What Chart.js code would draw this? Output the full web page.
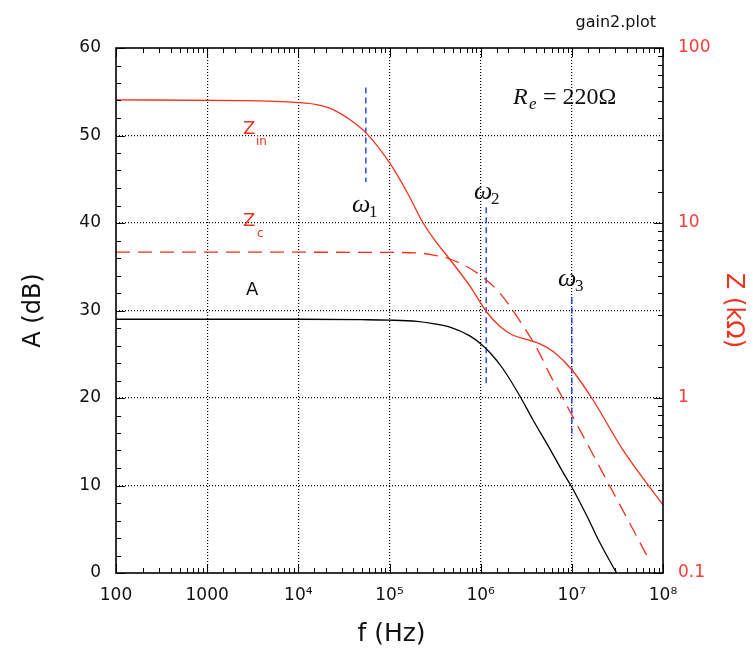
<!DOCTYPE html>
<html>
<head>
<meta charset="utf-8">
<script src="https://cdn.jsdelivr.net/npm/chart.js@4.4.0/dist/chart.umd.min.js"></script>
<style>
  html, body { margin:0; padding:0; background:#fff; }
  #wrap { width:753px; height:651px; }
</style>
</head>
<body>
<div id="wrap"><canvas id="gain" width="753" height="651"></canvas></div>
<script>
// gain2.plot: gain A (dB, left axis) and impedances Zin / Zc (kOhm, right log axis) vs frequency

// A curve (dB)
const freqA = [100, 1e3, 1e4, 5e4, 1e5, 2e5, 3e5, 4.6e5, 7.6e5, 1e6, 1.26e6, 1.74e6, 2.7e6, 3.7e6, 5.8e6, 8e6, 1e7, 1.45e7, 2e7, 2.8e7, 3.1e7];
const gainA = [29.0, 29.0, 29.0, 28.95, 28.9, 28.75, 28.5, 28.1, 27.1, 26.2, 25.2, 23.4, 20.2, 17.6, 14.1, 11.5, 9.8, 6.6, 3.6, 0.8, 0];

// Zin (kOhm)
const freqZin = [100, 2500, 1e4, 1.58e4, 2.4e4, 3.7e4, 5.6e4, 1e5, 1.58e5, 2.34e5, 3.16e5, 4.47e5, 7.6e5, 1.17e6, 1.62e6, 2.24e6, 3.16e6, 4.47e6, 6.3e6, 1e7, 1.7e7, 3.63e7, 1e8];
const zIn = [50.5, 50.1, 48.8, 47.5, 44.5, 38.9, 32.5, 22.1, 14.8, 10.0, 7.94, 6.31, 4.37, 3.09, 2.57, 2.29, 2.16, 2.04, 1.84, 1.45, 0.977, 0.505, 0.245];

// Zc (kOhm), dashed
const freqZc = [100, 1e5, 2.34e5, 3.16e5, 4.27e5, 7.1e5, 1.05e6, 1.62e6, 2.7e6, 4.17e6, 5.75e6, 7.94e6, 1.12e7, 1.58e7, 2.19e7, 3.09e7, 4.57e7, 6.6e7, 6.9e7];
const zC = [6.82, 6.79, 6.70, 6.53, 6.31, 5.62, 4.91, 3.98, 2.75, 1.91, 1.36, 1.0, 0.716, 0.513, 0.372, 0.266, 0.182, 0.127, 0.122];

// omega markers (blue dashed verticals, in dB of left axis)
const omegaFreq = [5.5e4, 1.15e6, 1.0e7];
const omegaTop = [55.5, 41.8, 31.5];
const omegaBottom = [44.7, 21.3, 15.4];

// tick labels
const xTickValues = [100, 1000, 1e4, 1e5, 1e6, 1e7, 1e8];
const xTickText = ['100', '1000', '10\u2074', '10\u2075', '10\u2076', '10\u2077', '10\u2078'];
const zTickValues = [0.1, 1, 10, 100];
const zTickText = ['0.1', '1', '10', '100'];

const RED = '#f2301c';
const SANS = '"DejaVu Sans", sans-serif';
const SERIF = '"Liberation Serif", serif';

const pairs = (xs, ys) => xs.map((x, i) => ({ x: x, y: ys[i] }));
const sameLog = (a, b) => Math.abs(Math.log10(a) - Math.log10(b)) < 1e-6;
const isDecade = v => Math.abs(Math.log10(v) - Math.round(Math.log10(v))) < 1e-6;

const omegaSets = omegaFreq.map((f, i) => ({
  data: [{ x: f, y: omegaTop[i] }, { x: f, y: omegaBottom[i] }],
  yAxisID: 'y', borderColor: '#1f3cff', borderWidth: 1.4, borderDash: [6, 4],
  pointRadius: 0, showLine: true
}));

// frame, inward ticks and text labels
const decor = {
  id: 'decor',
  beforeDraw(chart) {
    const ctx = chart.ctx;
    ctx.save();
    ctx.fillStyle = '#fff';
    ctx.fillRect(0, 0, chart.width, chart.height);
    ctx.restore();
  },
  afterDraw(chart) {
    const { ctx, chartArea: a, scales } = chart;
    ctx.save();
    ctx.strokeStyle = '#000';
    ctx.lineWidth = 1;
    ctx.beginPath();
    scales.x.ticks.forEach(t => {
      const px = Math.round(scales.x.getPixelForValue(t.value)) + 0.5;
      const len = isDecade(t.value) ? 9 : 5;
      ctx.moveTo(px, a.bottom); ctx.lineTo(px, a.bottom - len);
      ctx.moveTo(px, a.top); ctx.lineTo(px, a.top + len);
    });
    scales.y.ticks.forEach(t => {
      const py = Math.round(scales.y.getPixelForValue(t.value)) + 0.5;
      const len = t.value % 10 === 0 ? 9 : 5;
      ctx.moveTo(a.left, py); ctx.lineTo(a.left + len, py);
    });
    scales.y2.ticks.forEach(t => {
      const py = Math.round(scales.y2.getPixelForValue(t.value)) + 0.5;
      const len = isDecade(t.value) ? 9 : 5;
      ctx.moveTo(a.right, py); ctx.lineTo(a.right - len, py);
    });
    ctx.stroke();
    ctx.lineWidth = 1.6;
    ctx.strokeRect(a.left, a.top, a.right - a.left, a.bottom - a.top);

    // axis titles
    ctx.fillStyle = '#111';
    ctx.font = '25px ' + SANS;
    ctx.textAlign = 'center';
    ctx.textBaseline = 'alphabetic';
    ctx.fillText('f (Hz)', (a.left + a.right) / 2 + 2, 641);
    ctx.font = '24px ' + SANS;
    ctx.save();
    ctx.translate(40, (a.top + a.bottom) / 2);
    ctx.rotate(-Math.PI / 2);
    ctx.fillText('A (dB)', 0, 0);
    ctx.restore();
    ctx.save();
    ctx.fillStyle = RED;
    ctx.translate(727, (a.top + a.bottom) / 2);
    ctx.rotate(Math.PI / 2);
    ctx.fillText('Z (k\u03a9)', 0, 0);
    ctx.restore();

    ctx.font = '16px ' + SANS;
    ctx.textAlign = 'right';
    ctx.fillStyle = '#111';
    ctx.fillText('gain2.plot', 656, 27);

    // curve labels
    ctx.textAlign = 'left';
    const sub = (main, s, x, y, f1, f2, dx, dy, col) => {
      ctx.fillStyle = col;
      ctx.font = f1;
      ctx.fillText(main, x, y);
      ctx.font = f2;
      ctx.fillText(s, x + dx, y + dy);
    };
    sub('Z', 'in', 243, 134, '18px ' + SANS, '12px ' + SANS, 13, 11, RED);
    sub('Z', 'c', 243, 226, '18px ' + SANS, '12px ' + SANS, 14, 11, RED);
    ctx.fillStyle = '#111';
    ctx.font = '18px ' + SANS;
    ctx.fillText('A', 246, 295);

    sub('\u03c9', '1', 352, 212, 'italic 26px ' + SERIF, '17px ' + SERIF, 17, 5, '#111');
    sub('\u03c9', '2', 474, 199, 'italic 26px ' + SERIF, '17px ' + SERIF, 17, 5, '#111');
    sub('\u03c9', '3', 558, 286, 'italic 26px ' + SERIF, '17px ' + SERIF, 17, 5, '#111');

    sub('R', 'e', 513, 104, 'italic 24px ' + SERIF, 'italic 17px ' + SERIF, 16, 5, '#111');
    ctx.font = '24px ' + SERIF;
    ctx.fillText('= 220\u03a9', 543, 104);
    ctx.restore();
  }
};

new Chart(document.getElementById('gain'), {
  type: 'scatter',
  data: {
    datasets: [
      { data: pairs(freqZin, zIn), yAxisID: 'y2', borderColor: RED, borderWidth: 1.3, pointRadius: 0, showLine: true, cubicInterpolationMode: 'monotone' },
      { data: pairs(freqZc, zC), yAxisID: 'y2', borderColor: RED, borderWidth: 1.3, borderDash: [14, 8], pointRadius: 0, showLine: true, cubicInterpolationMode: 'monotone' },
      { data: pairs(freqA, gainA), yAxisID: 'y', borderColor: '#000', borderWidth: 1.3, pointRadius: 0, showLine: true, cubicInterpolationMode: 'monotone' }
    ].concat(omegaSets)
  },
  options: {
    responsive: false,
    animation: false,
    devicePixelRatio: 1,
    layout: { padding: { top: 48, left: 0, right: 0, bottom: 0 } },
    plugins: { legend: { display: false }, tooltip: { enabled: false } },
    scales: {
      x: {
        type: 'logarithmic', position: 'bottom', min: 100, max: 1e8,
        afterFit: s => { s.height = 78; },
        border: { display: false, dash: [1, 2] },
        grid: {
          drawTicks: false, lineWidth: 1.2,
          color: c => (c.tick && isDecade(c.tick.value) && c.tick.value > 100 && c.tick.value < 1e8) ? '#000' : 'rgba(0,0,0,0)'
        },
        ticks: {
          autoSkip: false, maxRotation: 0, padding: 12, color: '#111',
          font: { family: SANS, size: 17 },
          callback: v => { const i = xTickValues.findIndex(t => sameLog(t, v)); return i < 0 ? '' : xTickText[i]; }
        }
      },
      y: {
        type: 'linear', position: 'left', min: 0, max: 60,
        afterFit: s => { s.width = 116; },
        border: { display: false, dash: [1, 2] },
        grid: {
          drawTicks: false, lineWidth: 1.2,
          color: c => (c.tick && c.tick.value % 10 === 0 && c.tick.value > 0 && c.tick.value < 60) ? '#000' : 'rgba(0,0,0,0)'
        },
        ticks: {
          stepSize: 2, padding: 15, color: '#111', autoSkip: false,
          font: { family: SANS, size: 17 },
          callback: v => (v % 10 === 0 ? String(v) : '')
        }
      },
      y2: {
        type: 'logarithmic', position: 'right', min: 0.1, max: 100,
        afterFit: s => { s.width = 90; },
        border: { display: false },
        grid: { display: false, drawTicks: false },
        ticks: {
          autoSkip: false, padding: 15, color: '#ff3838',
          font: { family: SANS, size: 17 },
          callback: v => { const i = zTickValues.findIndex(t => sameLog(t, v)); return i < 0 ? '' : zTickText[i]; }
        }
      }
    }
  },
  plugins: [decor]
});
</script>
</body>
</html>
